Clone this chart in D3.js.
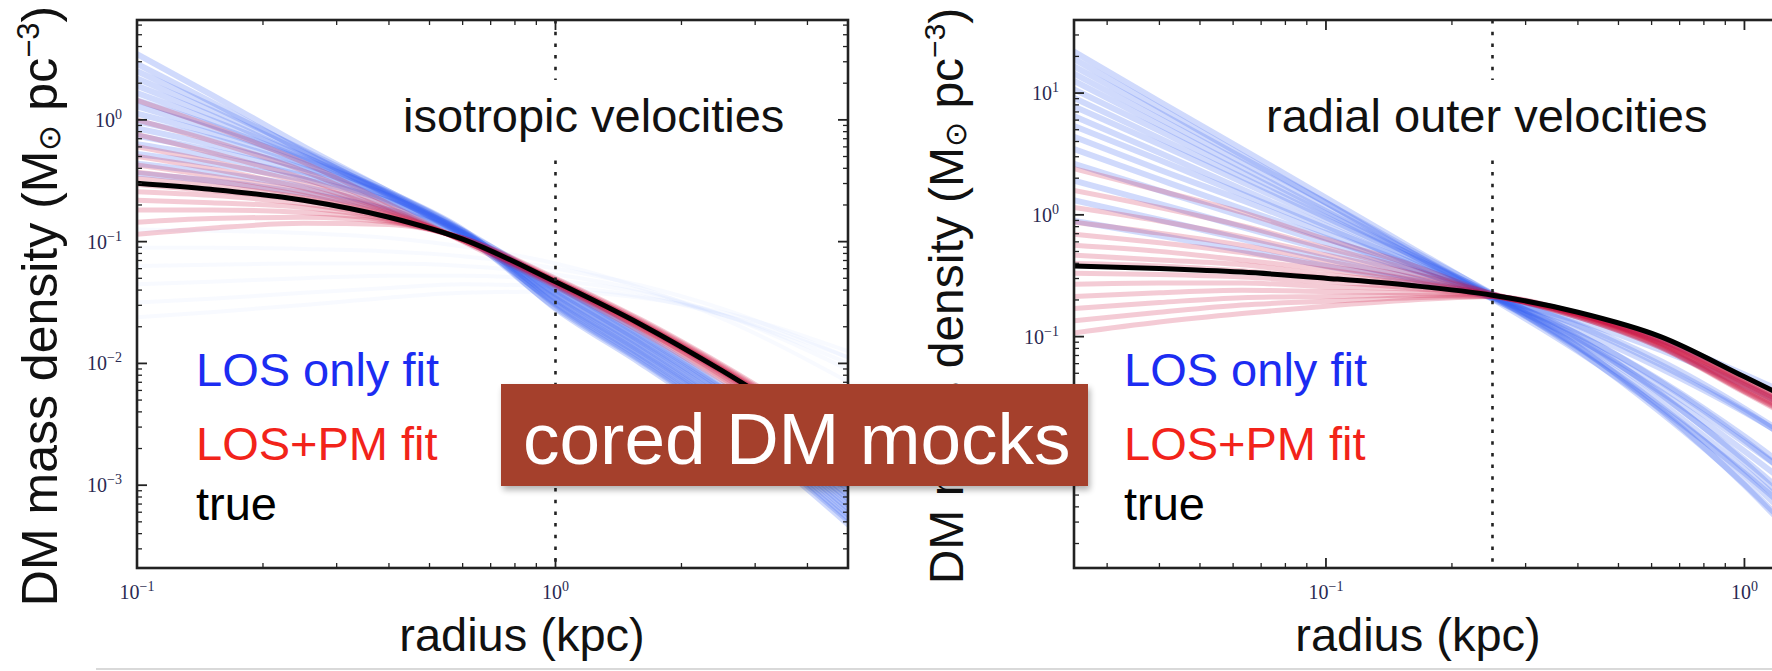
<!DOCTYPE html>
<html>
<head>
<meta charset="utf-8">
<script src="https://cdn.jsdelivr.net/npm/d3@7"></script>
<style>
  html, body { margin: 0; padding: 0; background: #ffffff; }
  svg { display: block; }
</style>
</head>
<body>
<svg id="chart" width="1772" height="671"></svg>
<script>
// ---- radii (kpc) at which every profile is tabulated ----
const radiiIso = [0.1, 0.15, 0.25, 0.4, 0.6, 1.0, 1.6, 2.5, 5.0];
const radiiRad = [0.025, 0.04, 0.063, 0.1, 0.16, 0.25, 0.4, 0.63, 1.0, 1.3];

// ---- log10 DM density (Msun / pc^3), isotropic-velocity mock ----
const trueIso = [-0.52, -0.57, -0.66, -0.80, -0.98, -1.33, -1.68, -2.06, -2.72];

const losIso = [
  [0.54, 0.21, -0.22, -0.59, -0.91, -1.55, -2.00, -2.46, -3.32],
  [0.46, 0.15, -0.26, -0.62, -0.94, -1.54, -1.98, -2.44, -3.29],
  [0.40, 0.12, -0.25, -0.59, -0.90, -1.52, -1.97, -2.42, -3.27],
  [0.34, 0.08, -0.27, -0.61, -0.93, -1.51, -1.95, -2.40, -3.24],
  [0.28, 0.04, -0.30, -0.62, -0.95, -1.50, -1.93, -2.38, -3.21],
  [0.22, 0.00, -0.30, -0.60, -0.92, -1.48, -1.92, -2.36, -3.19],
  [0.16, -0.04, -0.32, -0.61, -0.93, -1.47, -1.90, -2.34, -3.16],
  [0.11, -0.07, -0.33, -0.60, -0.91, -1.46, -1.89, -2.33, -3.13],
  [0.05, -0.11, -0.36, -0.63, -0.94, -1.44, -1.87, -2.31, -3.11],
  [-0.01, -0.15, -0.38, -0.63, -0.93, -1.43, -1.85, -2.29, -3.08],
  [-0.07, -0.20, -0.40, -0.63, -0.92, -1.42, -1.84, -2.27, -3.05],
  [-0.13, -0.25, -0.43, -0.66, -0.95, -1.40, -1.82, -2.25, -3.03],
  [-0.20, -0.30, -0.46, -0.67, -0.93, -1.39, -1.81, -2.23, -3.00],
  [-0.28, -0.36, -0.49, -0.67, -0.91, -1.38, -1.79, -2.21, -2.97],
  [-0.36, -0.43, -0.55, -0.72, -0.94, -1.36, -1.77, -2.20, -2.95],
  [-0.44, -0.50, -0.60, -0.74, -0.93, -1.35, -1.76, -2.18, -2.92]
];

// faint, nearly flat LOS-only solutions
const losIsoFlat = [
  [-1.05, -1.05, -1.06, -1.08, -1.12, -1.22, -1.36, -1.55, -1.95],
  [-1.20, -1.19, -1.18, -1.18, -1.20, -1.27, -1.40, -1.60, -2.05],
  [-1.35, -1.33, -1.30, -1.28, -1.28, -1.32, -1.42, -1.60, -2.00],
  [-1.50, -1.47, -1.42, -1.38, -1.35, -1.37, -1.45, -1.60, -1.95],
  [-0.90, -0.91, -0.93, -0.97, -1.04, -1.18, -1.38, -1.63, -2.15],
  [-1.62, -1.58, -1.52, -1.46, -1.42, -1.41, -1.46, -1.58, -1.90]
];

const pmIso = [
  [0.16, -0.05, -0.35, -0.69, -1.00, -1.37, -1.74, -2.14, -2.83],
  [0.00, -0.17, -0.42, -0.72, -0.99, -1.36, -1.72, -2.12, -2.80],
  [-0.12, -0.27, -0.48, -0.74, -0.99, -1.35, -1.71, -2.10, -2.79],
  [-0.22, -0.34, -0.52, -0.75, -0.99, -1.35, -1.71, -2.09, -2.77],
  [-0.30, -0.40, -0.56, -0.76, -0.99, -1.34, -1.70, -2.08, -2.76],
  [-0.37, -0.46, -0.59, -0.77, -0.98, -1.34, -1.69, -2.07, -2.75],
  [-0.43, -0.50, -0.62, -0.78, -0.98, -1.33, -1.69, -2.07, -2.74],
  [-0.48, -0.54, -0.64, -0.79, -0.98, -1.33, -1.68, -2.06, -2.73],
  [-0.53, -0.58, -0.66, -0.80, -0.98, -1.33, -1.68, -2.05, -2.72],
  [-0.59, -0.62, -0.69, -0.81, -0.98, -1.32, -1.67, -2.05, -2.71],
  [-0.66, -0.68, -0.72, -0.82, -0.98, -1.32, -1.67, -2.04, -2.70],
  [-0.74, -0.74, -0.76, -0.83, -0.97, -1.32, -1.66, -2.03, -2.69],
  [-0.84, -0.81, -0.80, -0.84, -0.97, -1.31, -1.65, -2.02, -2.67],
  [-0.94, -0.89, -0.85, -0.86, -0.97, -1.30, -1.64, -2.01, -2.65]
];

// ---- log10 DM density (Msun / pc^3), radially-biased outer velocities ----
const trueRad = [-0.42, -0.44, -0.47, -0.52, -0.58, -0.66, -0.80, -1.00, -1.33, -1.52];

const losRad = [
  [1.34, 0.93, 0.54, 0.14, -0.27, -0.66, -1.11, -1.62, -2.21, -2.59],
  [1.28, 0.88, 0.49, 0.10, -0.31, -0.69, -1.12, -1.59, -2.12, -2.45],
  [1.22, 0.84, 0.47, 0.10, -0.29, -0.65, -1.08, -1.60, -2.22, -2.62],
  [1.16, 0.79, 0.43, 0.06, -0.31, -0.67, -1.08, -1.54, -2.09, -2.43],
  [1.10, 0.74, 0.39, 0.03, -0.33, -0.68, -1.09, -1.57, -2.14, -2.51],
  [1.03, 0.69, 0.35, 0.01, -0.33, -0.66, -1.03, -1.45, -1.94, -2.24],
  [0.96, 0.63, 0.31, -0.02, -0.35, -0.67, -1.04, -1.48, -2.01, -2.34],
  [0.89, 0.58, 0.27, -0.04, -0.35, -0.65, -1.01, -1.47, -2.03, -2.39],
  [0.81, 0.51, 0.21, -0.09, -0.40, -0.69, -1.02, -1.41, -1.87, -2.15],
  [0.73, 0.45, 0.17, -0.11, -0.39, -0.66, -0.98, -1.36, -1.82, -2.11],
  [0.64, 0.37, 0.12, -0.15, -0.41, -0.67, -0.98, -1.37, -1.85, -2.16],
  [0.54, 0.29, 0.05, -0.19, -0.44, -0.68, -0.95, -1.26, -1.62, -1.85],
  [0.42, 0.20, -0.01, -0.23, -0.45, -0.66, -0.91, -1.23, -1.61, -1.86],
  [0.28, 0.09, -0.10, -0.29, -0.48, -0.67, -0.90, -1.20, -1.59, -1.84],
  [0.12, -0.04, -0.20, -0.36, -0.52, -0.68, -0.87, -1.11, -1.40, -1.59],
  [-0.05, -0.17, -0.29, -0.42, -0.54, -0.66, -0.81, -1.03, -1.31, -1.49]
];

const pmRad = [
  [0.38, 0.20, 0.02, -0.20, -0.41, -0.65, -0.83, -1.08, -1.44, -1.64],
  [0.20, 0.06, -0.09, -0.27, -0.45, -0.65, -0.81, -1.04, -1.38, -1.58],
  [0.06, -0.05, -0.18, -0.33, -0.48, -0.65, -0.84, -1.09, -1.46, -1.67],
  [-0.06, -0.15, -0.25, -0.38, -0.51, -0.66, -0.82, -1.06, -1.41, -1.61],
  [-0.16, -0.23, -0.31, -0.42, -0.53, -0.66, -0.81, -1.03, -1.36, -1.56],
  [-0.25, -0.30, -0.37, -0.45, -0.55, -0.66, -0.84, -1.08, -1.45, -1.65],
  [-0.33, -0.37, -0.41, -0.49, -0.56, -0.66, -0.82, -1.05, -1.40, -1.60],
  [-0.40, -0.42, -0.46, -0.52, -0.58, -0.66, -0.81, -1.03, -1.37, -1.57],
  [-0.48, -0.49, -0.51, -0.55, -0.60, -0.66, -0.83, -1.07, -1.43, -1.63],
  [-0.57, -0.56, -0.56, -0.59, -0.61, -0.67, -0.82, -1.05, -1.39, -1.59],
  [-0.67, -0.64, -0.62, -0.63, -0.64, -0.67, -0.84, -1.09, -1.45, -1.66],
  [-0.77, -0.72, -0.68, -0.67, -0.66, -0.67, -0.81, -1.02, -1.36, -1.55],
  [-0.87, -0.80, -0.74, -0.71, -0.68, -0.67, -0.83, -1.06, -1.42, -1.62],
  [-0.97, -0.88, -0.81, -0.75, -0.70, -0.67, -0.81, -1.04, -1.38, -1.58]
];

// reference radii (kpc) marked by the dotted lines
const guideIso = 1.0;
const guideRad = 0.25;

// ---- texts ----
const titleIso = "isotropic velocities";
const titleRad = "radial outer velocities";
const legendLabels = ["LOS only fit", "LOS+PM fit", "true"];
const xAxisLabel = "radius (kpc)";
const bannerText = "cored DM mocks";

// ---------------------------------------------------------------
const svg = d3.select("#chart");
const defs = svg.append("defs");
const SANS = "'Liberation Sans', Arial, Helvetica, sans-serif";
const SERIF = "'Liberation Serif', 'Times New Roman', serif";
const BLUE = "#3a66f2";
const RED = "#cc1242";

const panels = [
  { id: "iso", left: 137, right: 848, top: 20, bottom: 568,
    xDomain: [0.1, 5], yDomain: [Math.pow(10, -3.68), Math.pow(10, 0.82)],
    radii: radiiIso, truth: trueIso, los: losIso, losFaint: losIsoFlat, pm: pmIso,
    guide: guideIso, title: titleIso, titleX: 403,
    legendX: 196, yLabelX: 57, yLabelY: 306, yLabelSize: 50, xLabelX: 522 },
  { id: "rad", left: 1074, right: 1785, top: 20, bottom: 568,
    xDomain: [0.025, 1.25], yDomain: [Math.pow(10, -2.9), Math.pow(10, 1.6)],
    radii: radiiRad, truth: trueRad, los: losRad, losFaint: [], pm: pmRad,
    guide: guideRad, title: titleRad, titleX: 1266,
    legendX: 1124, yLabelX: 963, yLabelY: 296, yLabelSize: 48, xLabelX: 1418 }
];

function logTicks(domain) {
  const out = [];
  const k0 = Math.floor(Math.log10(domain[0])) - 1;
  const k1 = Math.ceil(Math.log10(domain[1])) + 1;
  for (let k = k0; k <= k1; k++) {
    for (let m = 1; m <= 9; m++) {
      const v = m * Math.pow(10, k);
      if (v >= domain[0] * (1 - 1e-9) && v <= domain[1] * (1 + 1e-9)) {
        out.push({ v: v, major: m === 1, e: k });
      }
    }
  }
  return out;
}

function powLabel(sel, e) {
  sel.append("tspan").text("10");
  sel.append("tspan")
    .attr("font-size", 14)
    .attr("dy", -8)
    .text(e < 0 ? "\u2212" + (-e) : String(e));
}

panels.forEach(p => {
  const x = d3.scaleLog().domain(p.xDomain).range([p.left, p.right]);
  const y = d3.scaleLog().domain(p.yDomain).range([p.bottom, p.top]);
  const g = svg.append("g").attr("class", "panel-" + p.id);

  defs.append("clipPath").attr("id", "clip-" + p.id)
    .append("rect")
    .attr("x", p.left).attr("y", p.top)
    .attr("width", p.right - p.left).attr("height", p.bottom - p.top);

  const plot = g.append("g").attr("clip-path", "url(#clip-" + p.id + ")");

  const line = d3.line()
    .x(d => x(d[0]))
    .y(d => y(Math.pow(10, d[1])))
    .curve(d3.curveMonotoneX);
  const pts = arr => arr.map((v, i) => [p.radii[i], v]);

  // faint flat LOS-only solutions
  plot.append("g").selectAll("path").data(p.losFaint).join("path")
    .attr("d", d => line(pts(d)))
    .attr("fill", "none").attr("stroke", BLUE)
    .attr("stroke-width", 4).attr("stroke-opacity", 0.035);

  // LOS-only fits
  plot.append("g").selectAll("path").data(p.los).join("path")
    .attr("d", d => line(pts(d)))
    .attr("fill", "none").attr("stroke", BLUE)
    .attr("stroke-width", 6).attr("stroke-opacity", 0.24)
    .attr("stroke-linecap", "round");

  // LOS + proper-motion fits
  plot.append("g").selectAll("path").data(p.pm).join("path")
    .attr("d", d => line(pts(d)))
    .attr("fill", "none").attr("stroke", RED)
    .attr("stroke-width", 5).attr("stroke-opacity", 0.22)
    .attr("stroke-linecap", "round");

  // true profile
  plot.append("path")
    .attr("d", line(pts(p.truth)))
    .attr("fill", "none").attr("stroke", "#000")
    .attr("stroke-width", 5);

  // dotted reference radius
  plot.append("line")
    .attr("x1", x(p.guide)).attr("x2", x(p.guide))
    .attr("y1", p.top).attr("y2", p.bottom)
    .attr("stroke", "#222").attr("stroke-width", 2.6)
    .attr("stroke-dasharray", "3.5 8.2");

  // title with white box
  const tg = g.append("g");
  const tt = tg.append("text")
    .attr("x", p.titleX).attr("y", 132)
    .attr("font-family", SANS).attr("font-size", 47)
    .attr("fill", "#111").text(p.title);
  const bb = tt.node().getBBox();
  tg.insert("rect", "text")
    .attr("x", bb.x - 4).attr("y", 80)
    .attr("width", bb.width + 8).attr("height", 76)
    .attr("fill", "#fff");

  // legend
  const legColors = ["#1c2cf2", "#f2231a", "#000"];
  const legY = [386, 460, 520];
  legendLabels.forEach((t, i) => {
    g.append("text")
      .attr("x", p.legendX).attr("y", legY[i])
      .attr("font-family", SANS).attr("font-size", 47)
      .attr("fill", legColors[i]).text(t);
  });

  // frame
  g.append("rect")
    .attr("x", p.left).attr("y", p.top)
    .attr("width", p.right - p.left).attr("height", p.bottom - p.top)
    .attr("fill", "none").attr("stroke", "#222").attr("stroke-width", 2.6);

  // ticks on all four sides, pointing inward
  const tickG = g.append("g").attr("stroke", "#222");
  logTicks(p.xDomain).forEach(t => {
    const xx = x(t.v), len = t.major ? 10 : 5;
    tickG.append("line").attr("x1", xx).attr("x2", xx)
      .attr("y1", p.bottom).attr("y2", p.bottom - len)
      .attr("stroke-width", t.major ? 1.8 : 1.3);
    tickG.append("line").attr("x1", xx).attr("x2", xx)
      .attr("y1", p.top).attr("y2", p.top + len)
      .attr("stroke-width", t.major ? 1.8 : 1.3);
    if (t.major) {
      const lab = g.append("text")
        .attr("x", xx).attr("y", p.bottom + 31)
        .attr("text-anchor", "middle")
        .attr("font-family", SERIF).attr("font-size", 20)
        .attr("fill", "#2a2a52");
      powLabel(lab, t.e);
    }
  });
  logTicks(p.yDomain).forEach(t => {
    const yy = y(t.v), len = t.major ? 10 : 5;
    tickG.append("line").attr("y1", yy).attr("y2", yy)
      .attr("x1", p.left).attr("x2", p.left + len)
      .attr("stroke-width", t.major ? 1.8 : 1.3);
    tickG.append("line").attr("y1", yy).attr("y2", yy)
      .attr("x1", p.right).attr("x2", p.right - len)
      .attr("stroke-width", t.major ? 1.8 : 1.3);
    if (t.major) {
      const lab = g.append("text")
        .attr("x", p.left - 15).attr("y", yy + 7)
        .attr("text-anchor", "end")
        .attr("font-family", SERIF).attr("font-size", 20)
        .attr("fill", "#2a2a52");
      powLabel(lab, t.e);
    }
  });

  // axis labels
  g.append("text")
    .attr("x", p.xLabelX).attr("y", 651)
    .attr("text-anchor", "middle")
    .attr("font-family", SANS).attr("font-size", 47)
    .attr("fill", "#111").text(xAxisLabel);

  const small = Math.round(p.yLabelSize * 0.62);
  const yl = g.append("text")
    .attr("transform", "translate(" + p.yLabelX + "," + p.yLabelY + ") rotate(-90)")
    .attr("text-anchor", "middle")
    .attr("font-family", SANS).attr("font-size", p.yLabelSize)
    .attr("fill", "#111");
  yl.append("tspan").text("DM mass density (M");
  yl.append("tspan").attr("font-size", small).attr("dy", 3).text("\u2299");
  yl.append("tspan").attr("dy", -3).text(" pc");
  yl.append("tspan").attr("font-size", small).attr("dy", -18).text("\u22123");
  yl.append("tspan").attr("dy", 18).text(")");
});

// faint rule along the bottom edge
svg.append("line")
  .attr("x1", 96).attr("x2", 1772).attr("y1", 669).attr("y2", 669)
  .attr("stroke", "#d9d9d9").attr("stroke-width", 2);

// banner laid across both panels
const shadow = defs.append("filter").attr("id", "bannerShadow")
  .attr("x", "-5%").attr("y", "-20%").attr("width", "110%").attr("height", "150%");
shadow.append("feGaussianBlur").attr("stdDeviation", 3);

const banner = svg.append("g");
banner.append("rect")
  .attr("x", 503).attr("y", 388).attr("width", 587).attr("height", 102)
  .attr("fill", "#000").attr("opacity", 0.3)
  .attr("filter", "url(#bannerShadow)");
banner.append("rect")
  .attr("x", 501).attr("y", 384).attr("width", 587).attr("height", 102)
  .attr("fill", "#a5402c");
banner.append("text")
  .attr("x", 523).attr("y", 464)
  .attr("font-family", SANS).attr("font-size", 73)
  .attr("fill", "#ffffff").text(bannerText);
</script>
</body>
</html>
